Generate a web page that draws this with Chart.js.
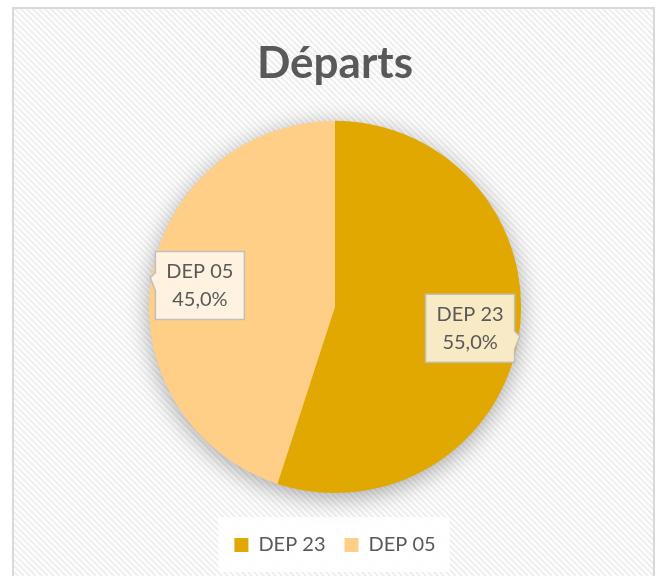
<!DOCTYPE html>
<html>
<head>
<meta charset="utf-8">
<script src="https://cdn.jsdelivr.net/npm/chart.js@4.4.1/dist/chart.umd.min.js"></script>
<style>
  html, body { margin: 0; padding: 0; background: #fff; }
  #wrap { width: 662px; height: 576px; position: relative; }
</style>
</head>
<body>
<div id="wrap"><canvas id="myChart" width="662" height="576"></canvas></div>
<script>
// chart data
const labels = ['DEP 23', 'DEP 05'];
const values = [55.0, 45.0];
const colors = ['#E0A800', '#FFCF88'];
const labelFills = ['#F8EAC4', '#FFF2E1'];
const chartTitle = 'Départs';

const FONT = 'Lato, "Open Sans", sans-serif';

// striped background + frame
const backdrop = {
  id: 'backdrop',
  beforeDraw(chart) {
    const ctx = chart.ctx;
    const w = chart.width, h = chart.height;
    ctx.save();
    ctx.fillStyle = '#fff';
    ctx.fillRect(0, 0, w, h);
    ctx.beginPath();
    ctx.rect(14, 9, 640, h);
    ctx.clip();
    ctx.strokeStyle = '#efefef';
    ctx.lineWidth = 2.2;
    for (let k = -h; k < w; k += 6) {
      ctx.beginPath();
      ctx.moveTo(k, 0);
      ctx.lineTo(k + h, h);
      ctx.stroke();
    }
    ctx.restore();

    ctx.save();
    ctx.strokeStyle = '#d9d9d9';
    ctx.lineWidth = 2;
    ctx.strokeRect(13, 8, 641, h + 10);
    ctx.restore();

    // legend background
    const lg = chart.legend;
    if (lg && lg.legendHitBoxes && lg.legendHitBoxes.length) {
      const boxes = lg.legendHitBoxes;
      let x0 = Infinity, x1 = -Infinity, y0 = Infinity, y1 = -Infinity;
      boxes.forEach(b => {
        x0 = Math.min(x0, b.left); x1 = Math.max(x1, b.left + b.width);
        y0 = Math.min(y0, b.top); y1 = Math.max(y1, b.top + b.height);
      });
      ctx.save();
      ctx.fillStyle = 'rgba(255,255,255,0.9)';
      ctx.fillRect(x0 - 16, y0 - 18, (x1 - x0) + 30, (y1 - y0) + 35);
      ctx.restore();
    }
  },
  beforeDatasetsDraw(chart) {
    const arc = chart.getDatasetMeta(0).data[0];
    if (!arc) return;
    const ctx = chart.ctx;
    ctx.save();
    ctx.shadowColor = 'rgba(0,0,0,0.35)';
    ctx.shadowBlur = 24;
    ctx.shadowOffsetY = 5;
    ctx.fillStyle = colors[0];
    ctx.beginPath();
    ctx.arc(arc.x, arc.y, arc.outerRadius - 1, 0, Math.PI * 2);
    ctx.fill();
    ctx.restore();
  }
};

// callout data labels
const callouts = {
  id: 'callouts',
  afterDatasetsDraw(chart) {
    const ctx = chart.ctx;
    const meta = chart.getDatasetMeta(0);
    const total = values.reduce((a, b) => a + b, 0);
    meta.data.forEach((arc, i) => {
      const p = arc.getProps(['x', 'y', 'startAngle', 'endAngle', 'outerRadius'], true);
      const mid = (p.startAngle + p.endAngle) / 2;
      const cx = p.x + Math.cos(mid) * p.outerRadius * 0.735;
      const cy = p.y + Math.sin(mid) * p.outerRadius * 0.735;
      const tx = p.x + Math.cos(mid) * (p.outerRadius + 1);
      const ty = p.y + Math.sin(mid) * (p.outerRadius + 1);
      const bw = 89, bh = 68;
      const l = cx - bw / 2, r = cx + bw / 2, t = cy - bh / 2, b = cy + bh / 2;
      const by = Math.max(t + 10, Math.min(b - 10, ty + 4));
      ctx.save();
      ctx.beginPath();
      if (tx > r) {
        ctx.moveTo(l, t); ctx.lineTo(r, t);
        ctx.lineTo(r, by - 9); ctx.lineTo(tx, ty); ctx.lineTo(r, by + 9);
        ctx.lineTo(r, b); ctx.lineTo(l, b); ctx.closePath();
      } else {
        ctx.moveTo(l, t); ctx.lineTo(r, t); ctx.lineTo(r, b); ctx.lineTo(l, b);
        ctx.lineTo(l, by + 9); ctx.lineTo(tx, ty); ctx.lineTo(l, by - 9);
        ctx.closePath();
      }
      ctx.fillStyle = labelFills[i];
      ctx.fill();
      ctx.strokeStyle = '#bfbfbf';
      ctx.lineWidth = 1.5;
      ctx.stroke();
      ctx.fillStyle = '#595959';
      ctx.font = '20px ' + FONT;
      ctx.textAlign = 'center';
      ctx.textBaseline = 'middle';
      const pct = (values[i] / total * 100).toFixed(1).replace('.', ',') + '%';
      ctx.fillText(labels[i], cx, cy - 14);
      ctx.fillText(pct, cx, cy + 14);
      ctx.restore();
    });
  }
};

new Chart(document.getElementById('myChart').getContext('2d'), {
  type: 'pie',
  data: {
    labels: labels,
    datasets: [{
      data: values,
      backgroundColor: colors,
      borderWidth: 0
    }]
  },
  options: {
    responsive: false,
    animation: false,
    layout: { padding: { left: 20, right: 12, top: 0, bottom: 11 } },
    plugins: {
      title: {
        display: true,
        text: chartTitle,
        color: '#595959',
        font: { family: FONT, size: 44, weight: 'bold', lineHeight: 1.2 },
        padding: { top: 37, bottom: 31 }
      },
      legend: {
        position: 'bottom',
        title: { display: true, text: '', font: { size: 10, lineHeight: 1.2 }, padding: { top: 11, bottom: 0 } },
        labels: {
          boxWidth: 14,
          boxHeight: 14,
          padding: 19,
          color: '#595959',
          font: { family: FONT, size: 20 }
        }
      },
      tooltip: { enabled: false }
    }
  },
  plugins: [backdrop, callouts]
});
</script>
</body>
</html>
